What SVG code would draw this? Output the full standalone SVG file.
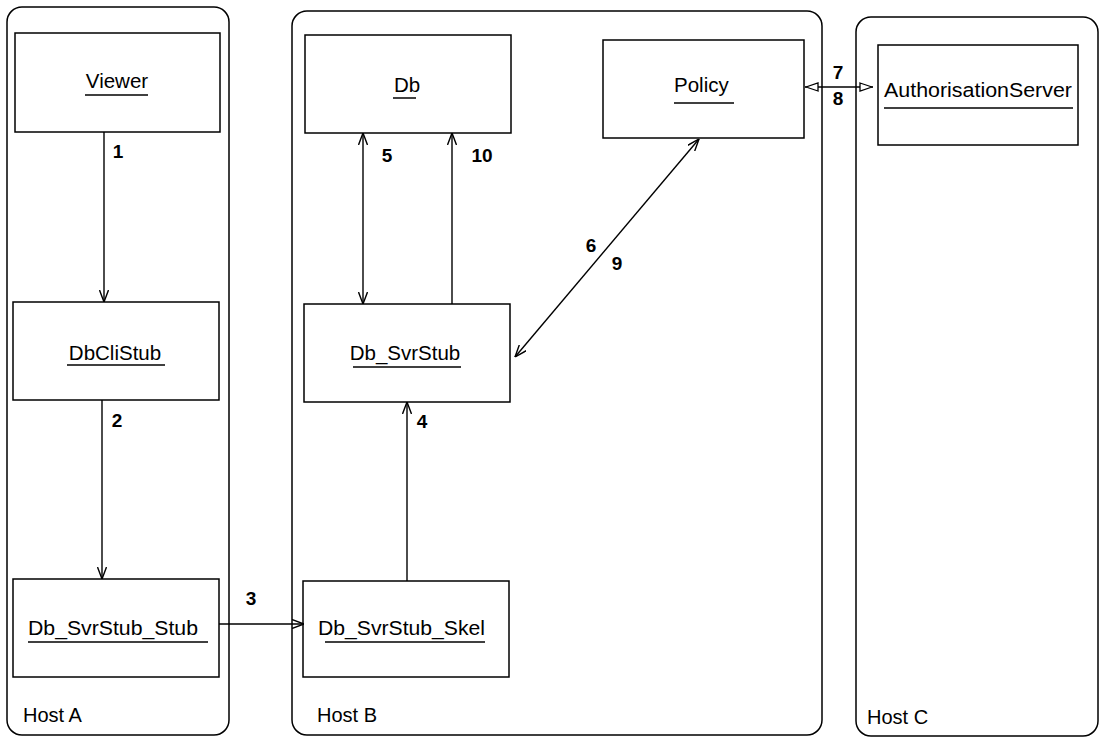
<svg xmlns="http://www.w3.org/2000/svg" width="1103" height="739" viewBox="0 0 1103 739">
  <style>
    .host { fill: none; stroke: #000; stroke-width: 1.5; }
    .box { fill: #fff; stroke: #000; stroke-width: 1.5; }
    .name { font-family: "Liberation Sans", Arial, sans-serif; font-size: 20.5px; fill: #000; }
    .hostlbl { font-family: "Liberation Sans", Arial, sans-serif; font-size: 20px; fill: #000; }
    .ul { stroke: #000; stroke-width: 1.5; }
    .num { font-family: "Liberation Sans", Arial, sans-serif; font-size: 19px; font-weight: bold; fill: #000; text-anchor: middle; }
    .conn { stroke: #000; stroke-width: 1.4; fill: none; }
  </style>
  <defs>
    <marker id="v" viewBox="0 0 12 10" refX="12" refY="5" markerWidth="12" markerHeight="10" markerUnits="userSpaceOnUse" orient="auto-start-reverse">
      <path d="M0,0.5 L12,5 L0,9.5" fill="none" stroke="#000" stroke-width="1.4"/>
    </marker>
    <marker id="t" viewBox="0 0 14 10" refX="14" refY="5" markerWidth="14" markerHeight="10" markerUnits="userSpaceOnUse" orient="auto-start-reverse">
      <path d="M1,1 L13,5 L1,9 Z" fill="#fff" stroke="#000" stroke-width="1.3"/>
    </marker>
  </defs>
  <rect width="1103" height="739" fill="#fff"/>

  <g id="hostA">
    <rect class="host" x="7" y="7" width="222" height="728" rx="15"/>
    <text class="hostlbl" x="23" y="722">Host A</text>
  </g>
  <g id="hostB">
    <rect class="host" x="292" y="11" width="530" height="724" rx="15"/>
    <text class="hostlbl" x="317" y="722">Host B</text>
  </g>
  <g id="hostC">
    <rect class="host" x="856" y="17" width="242" height="719" rx="15"/>
    <text class="hostlbl" x="867" y="724">Host C</text>
  </g>

  <g id="viewer">
    <rect class="box" x="15" y="33" width="205" height="99"/>
    <text class="name" x="117" y="88" text-anchor="middle">Viewer</text>
    <line class="ul" x1="85" y1="95" x2="148" y2="95"/>
  </g>
  <g id="dbclistub">
    <rect class="box" x="13" y="302" width="206" height="98"/>
    <text class="name" x="115" y="360" text-anchor="middle">DbCliStub</text>
    <line class="ul" x1="67" y1="365" x2="165" y2="365"/>
  </g>
  <g id="db_svrstub_stub">
    <rect class="box" x="13" y="579" width="206" height="98"/>
    <text class="name" x="28" y="635" textLength="170" lengthAdjust="spacingAndGlyphs">Db_SvrStub_Stub</text>
    <line class="ul" x1="28" y1="642" x2="208" y2="642"/>
  </g>
  <g id="db">
    <rect class="box" x="305" y="35" width="206" height="98"/>
    <text class="name" x="407" y="92" text-anchor="middle">Db</text>
    <line class="ul" x1="393" y1="98" x2="416" y2="98"/>
  </g>
  <g id="policy">
    <rect class="box" x="603" y="40" width="201" height="98"/>
    <text class="name" x="674" y="92">Policy</text>
    <line class="ul" x1="674" y1="103" x2="734" y2="103"/>
  </g>
  <g id="authorisationserver">
    <rect class="box" x="878" y="45" width="200" height="100"/>
    <text class="name" x="884" y="97" textLength="188" lengthAdjust="spacingAndGlyphs">AuthorisationServer</text>
    <line class="ul" x1="884" y1="108" x2="1073" y2="108"/>
  </g>
  <g id="db_svrstub">
    <rect class="box" x="304" y="304" width="206" height="98"/>
    <text class="name" x="405" y="360" text-anchor="middle">Db_SvrStub</text>
    <line class="ul" x1="353" y1="367" x2="461" y2="367"/>
  </g>
  <g id="db_svrstub_skel">
    <rect class="box" x="303" y="581" width="206" height="96"/>
    <text class="name" x="318" y="635" textLength="167" lengthAdjust="spacingAndGlyphs">Db_SvrStub_Skel</text>
    <line class="ul" x1="325" y1="642" x2="485" y2="642"/>
  </g>

  <g id="connectors">
    <line class="conn" x1="104" y1="132" x2="104" y2="302" marker-end="url(#v)"/>
    <line class="conn" x1="102" y1="400" x2="102" y2="579" marker-end="url(#v)"/>
    <line class="conn" x1="219" y1="624" x2="304" y2="624" marker-end="url(#v)"/>
    <line class="conn" x1="407" y1="581" x2="407" y2="402" marker-end="url(#v)"/>
    <line class="conn" x1="363" y1="133" x2="363" y2="304" marker-start="url(#v)" marker-end="url(#v)"/>
    <line class="conn" x1="452" y1="304" x2="452" y2="133" marker-end="url(#v)"/>
    <line class="conn" x1="699" y1="139" x2="515" y2="357" marker-start="url(#v)" marker-end="url(#v)"/>
    <line class="conn" x1="805" y1="87" x2="873" y2="87" marker-start="url(#t)" marker-end="url(#t)"/>
    <text class="num" x="118" y="158">1</text>
    <text class="num" x="117" y="427">2</text>
    <text class="num" x="251" y="605">3</text>
    <text class="num" x="422" y="428">4</text>
    <text class="num" x="387" y="162">5</text>
    <text class="num" x="482" y="162">10</text>
    <text class="num" x="591" y="252">6</text>
    <text class="num" x="617" y="270">9</text>
    <text class="num" x="838" y="79">7</text>
    <text class="num" x="838" y="105">8</text>
  </g>
</svg>
